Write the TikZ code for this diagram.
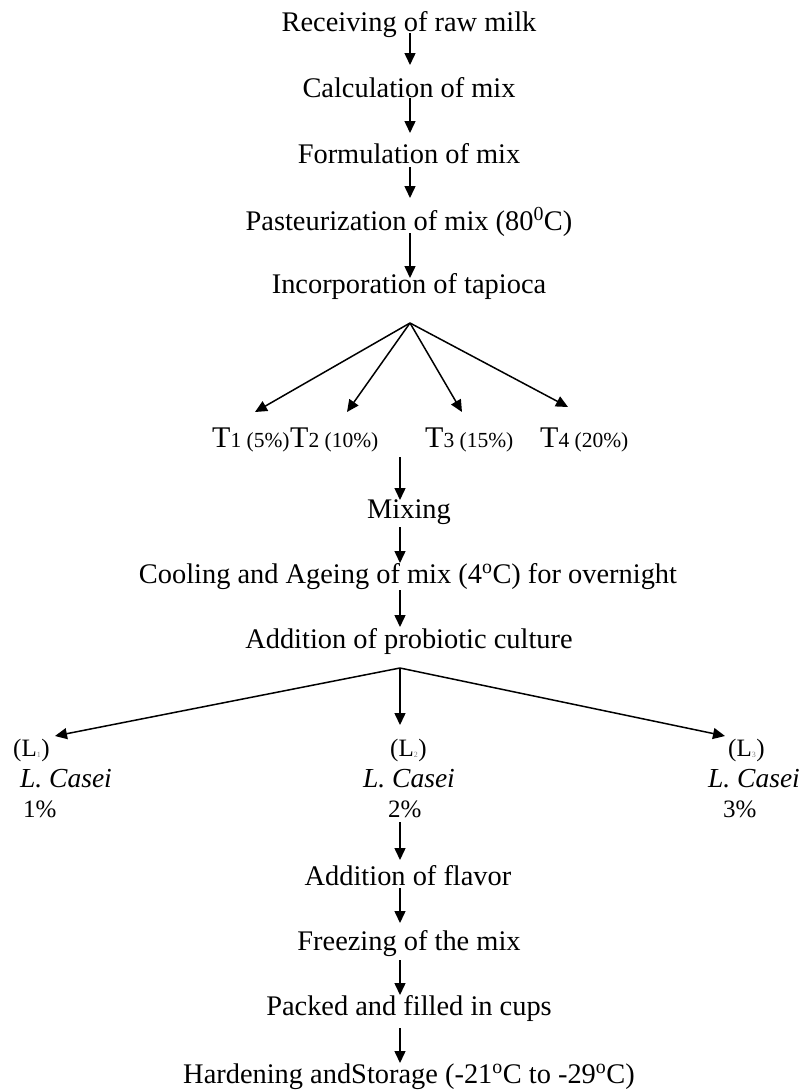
\documentclass[tikz,border=0pt]{standalone}
\usepackage{fontspec}
\setmainfont{Liberation Serif}
\usetikzlibrary{arrows.meta,calc}

\begin{document}
\begin{tikzpicture}[
    x=1pt, y=-1pt,
    >={Triangle[length=12pt,width=11pt]},
    every node/.style={inner sep=0pt, text height=20pt, text depth=6pt},
    stage/.style={anchor=base, font=\fontsize{28.4}{34}\selectfont},
    treat/.style={anchor=base west, font=\fontsize{30}{36}\selectfont},
    culture/.style={anchor=base west, font=\fontsize{25}{30}\selectfont},
    flow/.style={->, line width=1.5pt},
]
\useasboundingbox (0,0) rectangle (809,1090);

% ===== Axes of the vertical arrows =====
\coordinate (topaxis) at (410,0);
\coordinate (axis) at (400,0);

% ===== Preparation of the mix =====
\node[stage] (recv) at (409,31) {Receiving of raw milk};
\node[stage] (calc) at (409,97) {Calculation of mix};
\node[stage] (form) at (409,163) {Formulation of mix};
\node[stage] (past) at (409,230) {Pasteurization of mix (80\textsuperscript{0}C)};
\node[stage] (inc) at (409,293) {Incorporation of tapioca};

% ===== Tapioca levels =====
\node[treat] (t1) at (212,447) {T{\fontsize{21.5}{26}\selectfont 1 (5\%)}};
\node[treat] (t2) at (290,447) {T{\fontsize{21.5}{26}\selectfont 2 (10\%)}};
\node[treat] (t3) at (425,447) {T{\fontsize{21.5}{26}\selectfont 3 (15\%)}};
\node[treat] (t4) at (540,447) {T{\fontsize{21.5}{26}\selectfont 4 (20\%)}};

\node[stage] (mix) at (409,518) {Mixing};
\node[stage] (cool) at (408,583) {Cooling and Ageing of mix (4\textsuperscript{o}C) for overnight};
\node[stage] (prob) at (409,648) {Addition of probiotic culture};

% ===== Culture levels =====
\node[culture] (l1) at (13,756) {(L{\fontsize{12}{14}\selectfont\color{gray}\textsubscript{1}})};
\node[culture] (l1name) at (20,787) {\fontsize{27.5}{32}\selectfont\itshape L. Casei};
\node[culture] (l1pct) at (23,817) {1\%};

\node[culture] (l2) at (390,756) {(L{\fontsize{12}{14}\selectfont\color{gray}\textsubscript{2}})};
\node[culture] (l2name) at (363,787) {\fontsize{27.5}{32}\selectfont\itshape L. Casei};
\node[culture] (l2pct) at (388,817) {2\%};

\node[culture] (l3) at (728,756) {(L{\fontsize{12}{14}\selectfont\color{gray}\textsubscript{3}})};
\node[culture] (l3name) at (708,787) {\fontsize{27.5}{32}\selectfont\itshape L. Casei};
\node[culture] (l3pct) at (723,817) {3\%};

% ===== Finishing =====
\node[stage] (flav) at (408,885) {Addition of flavor};
\node[stage] (frz) at (409,950) {Freezing of the mix};
\node[stage] (pack) at (409,1015) {Packed and filled in cups};
\node[stage] (hard) at (409,1083) {Hardening andStorage (-21\textsuperscript{o}C to -29\textsuperscript{o}C)};

% ===== Arrows: preparation =====
\draw[flow] ($(recv.base -| topaxis)+(0,2)$) -- ($(calc.base -| topaxis)+(0,-32)$);
\draw[flow] ($(calc.base -| topaxis)+(0,1)$) -- ($(form.base -| topaxis)+(0,-30)$);
\draw[flow] ($(form.base -| topaxis)+(0,4)$) -- ($(past.base -| topaxis)+(0,-32)$);
\draw[flow] ($(past.base -| topaxis)+(0,3)$) -- ($(inc.base -| topaxis)+(0,-15)$);

% ===== Arrows: tapioca split =====
\coordinate (tsplit) at ($(inc.base -| topaxis)+(0,30)$);
\draw[flow] (tsplit) -- ($(t1.base west)+(43,-35)$);
\draw[flow] (tsplit) -- ($(t2.base west)+(57,-35)$);
\draw[flow] (tsplit) -- ($(t3.base west)+(37,-35)$);
\draw[flow] (tsplit) -- ($(t4.base west)+(28,-40)$);

% ===== Arrows: mixing to culture =====
\draw[flow] ($(t2.base -| axis)+(0,10)$) -- ($(mix.base -| axis)+(0,-18)$);
\draw[flow] ($(mix.base -| axis)+(0,9)$) -- ($(cool.base -| axis)+(0,-20)$);
\draw[flow] ($(cool.base -| axis)+(0,7)$) -- ($(prob.base -| axis)+(0,-21)$);

% ===== Arrows: culture split =====
\coordinate (lsplit) at ($(prob.base -| axis)+(0,20)$);
\draw[flow] (lsplit) -- ($(l1.base west)+(42,-20)$);
\draw[flow] (lsplit) -- ($(l2.base west)+(10,-31)$);
\draw[flow] (lsplit) -- ($(l3.base west)+(-3,-20)$);

% ===== Arrows: finishing =====
\draw[flow] ($(l2pct.base -| axis)+(0,5)$) -- ($(flav.base -| axis)+(0,-25)$);
\draw[flow] ($(flav.base -| axis)+(0,3)$) -- ($(frz.base -| axis)+(0,-27)$);
\draw[flow] ($(frz.base -| axis)+(0,10)$) -- ($(pack.base -| axis)+(0,-20)$);
\draw[flow] ($(pack.base -| axis)+(0,13)$) -- ($(hard.base -| axis)+(0,-20)$);

\end{tikzpicture}
\end{document}
